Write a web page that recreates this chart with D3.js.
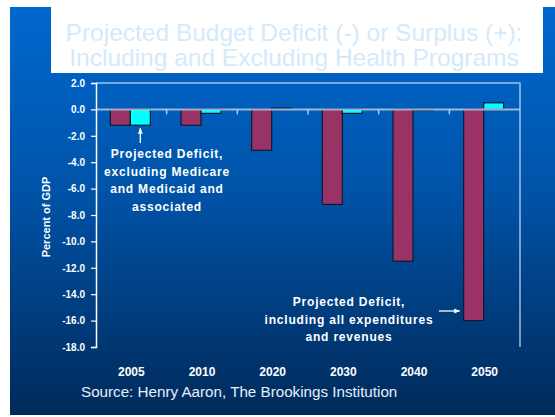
<!DOCTYPE html>
<html>
<head>
<meta charset="utf-8">
<script src="https://cdn.jsdelivr.net/npm/d3@7"></script>
<style>
  html, body { margin: 0; padding: 0; background: #fff; }
  svg { display: block; font-family: "Liberation Sans", Arial, sans-serif; }
</style>
</head>
<body>
<svg id="chart" width="555" height="417"></svg>
<script>
// Projected budget balance, percent of GDP
const years = ["2005", "2010", "2020", "2030", "2040", "2050"];
const includingAll = [-1.2, -1.2, -3.1, -7.2, -11.5, -16.0];
const excludingHealth = [-1.2, -0.3, 0.1, -0.3, 0.0, 0.5];
const yTicks = [2, 0, -2, -4, -6, -8, -10, -12, -14, -16, -18];
const seriesNames = ["including", "excluding"];
const seriesColors = ["#993366", "#00ffff"];

const svg = d3.select("#chart");

// slide background
const defs = svg.append("defs");
const grad = defs.append("linearGradient")
  .attr("id", "bg").attr("x1", 0).attr("y1", 0).attr("x2", 0).attr("y2", 1);
grad.append("stop").attr("offset", "0%").attr("stop-color", "#0068d0");
grad.append("stop").attr("offset", "45%").attr("stop-color", "#0053a8");
grad.append("stop").attr("offset", "100%").attr("stop-color", "#002a5a");

svg.append("rect").attr("x", 10).attr("y", 7).attr("width", 545).attr("height", 408)
  .attr("fill", "url(#bg)");

// title panel
svg.append("rect").attr("x", 51).attr("y", 7).attr("width", 492).attr("height", 66)
  .attr("fill", "#ffffff");
const title = svg.append("text").attr("text-anchor", "middle")
  .attr("fill", "#d4eafa").attr("font-size", 24.5);
title.append("tspan").attr("x", 294).attr("y", 41).text("Projected Budget Deficit (-) or Surplus (+):");
title.append("tspan").attr("x", 294).attr("y", 66).text("Including and Excluding Health Programs");

// plot area
const plotL = 96, plotR = 520, plotT = 83, plotB = 347;

const x = d3.scaleBand().domain(years).range([plotL, plotR]).padding(0);
const xs = d3.scaleBand().domain(seriesNames).range([0, 40]).padding(0);
const y = d3.scaleLinear().domain([-18, 2]).range([plotB, plotT]);

// frame
svg.append("path")
  .attr("d", `M${plotL},${plotT}H${plotR}V${plotB}`)
  .attr("fill", "none").attr("stroke", "#c8dcf0").attr("stroke-opacity", 0.8).attr("stroke-width", 1.5);

// bars
const groupShift = (x.bandwidth() - 40) / 2 - 1;
const groups = svg.append("g").selectAll("g").data(years).join("g")
  .attr("transform", d => `translate(${x(d) + groupShift},0)`);

groups.each(function (yr, i) {
  const vals = [includingAll[i], excludingHealth[i]];
  d3.select(this).selectAll("rect").data(vals).join("rect")
    .attr("x", (v, j) => xs(seriesNames[j]))
    .attr("width", xs.bandwidth())
    .attr("y", v => Math.min(y(v), y(0)))
    .attr("height", v => Math.max(Math.abs(y(v) - y(0)), 1))
    .attr("fill", (v, j) => seriesColors[j])
    .attr("stroke", "#101830").attr("stroke-width", 1.2);
});

// zero line with category ticks
svg.append("line")
  .attr("x1", plotL).attr("x2", plotR).attr("y1", y(0)).attr("y2", y(0))
  .attr("stroke", "#b8c8dc").attr("stroke-opacity", 0.85).attr("stroke-width", 2);
svg.append("g").selectAll("line").data(years.slice(1)).join("line")
  .attr("x1", d => x(d)).attr("x2", d => x(d))
  .attr("y1", y(0)).attr("y2", y(0) + 5)
  .attr("stroke", "#b8c8dc").attr("stroke-width", 1.5);

// y axis
const yAxis = d3.axisLeft(y).tickValues(yTicks).tickFormat(d3.format(".1f")).tickSize(5).tickPadding(6);
const ya = svg.append("g").attr("transform", `translate(${plotL},0)`).call(yAxis);
ya.select(".domain").attr("stroke", "#ffffff").attr("stroke-width", 1.5);
ya.selectAll(".tick line").attr("stroke", "#ffffff").attr("stroke-width", 1.2);
ya.selectAll(".tick text").attr("fill", "#ffffff").attr("font-size", 10)
  .attr("font-weight", "bold").attr("font-family", "Liberation Sans, Arial, sans-serif")
  .text(d => d3.format(".1f")(d).replace("−", "-"));

// x axis labels
const xa = svg.append("g").attr("transform", `translate(0,${plotB})`)
  .call(d3.axisBottom(x).tickSize(0).tickPadding(20));
xa.select(".domain").remove();
xa.selectAll(".tick text").attr("fill", "#ffffff").attr("font-size", 12)
  .attr("font-weight", "bold").attr("font-family", "Liberation Sans, Arial, sans-serif");

// y title
svg.append("text")
  .attr("transform", `translate(50,${(plotT + plotB) / 2 + 2}) rotate(-90)`)
  .attr("text-anchor", "middle").attr("fill", "#ffffff")
  .attr("font-size", 11).attr("font-weight", "bold")
  .text("Percent of GDP");

// annotations
function note(cx, y0, lines) {
  const t = svg.append("text").attr("text-anchor", "middle").attr("fill", "#ffffff")
    .attr("font-size", 12).attr("font-weight", "bold").attr("letter-spacing", 0.8);
  lines.forEach((s, k) => t.append("tspan").attr("x", cx).attr("y", y0 + k * 17.5).text(s));
}
note(167, 158, ["Projected Deficit,", "excluding Medicare", "and Medicaid and", "associated"]);
note(349, 306, ["Projected Deficit,", "including all expenditures", "and revenues"]);

defs.append("marker").attr("id", "head").attr("viewBox", "0 0 10 10")
  .attr("refX", 9).attr("refY", 5).attr("markerWidth", 6).attr("markerHeight", 6)
  .attr("markerUnits", "userSpaceOnUse").attr("orient", "auto")
  .append("path").attr("d", "M0,1L10,5L0,9Z").attr("fill", "#ffffff");

const cyanX = x("2005") + groupShift + xs("excluding") + xs.bandwidth() / 2;
svg.append("line").attr("x1", cyanX).attr("x2", cyanX)
  .attr("y1", 143).attr("y2", y(excludingHealth[0]) + 3)
  .attr("stroke", "#ffffff").attr("stroke-width", 1.3).attr("marker-end", "url(#head)");

const barLeft2050 = x("2050") + groupShift + xs("including");
svg.append("line").attr("x1", 439).attr("x2", barLeft2050 - 4)
  .attr("y1", 311).attr("y2", 311)
  .attr("stroke", "#ffffff").attr("stroke-width", 1.3).attr("marker-end", "url(#head)");

// source
svg.append("text").attr("x", 81).attr("y", 397).attr("fill", "#e4f0fc")
  .attr("font-size", 15.2).text("Source: Henry Aaron, The Brookings Institution");
</script>
</body>
</html>
